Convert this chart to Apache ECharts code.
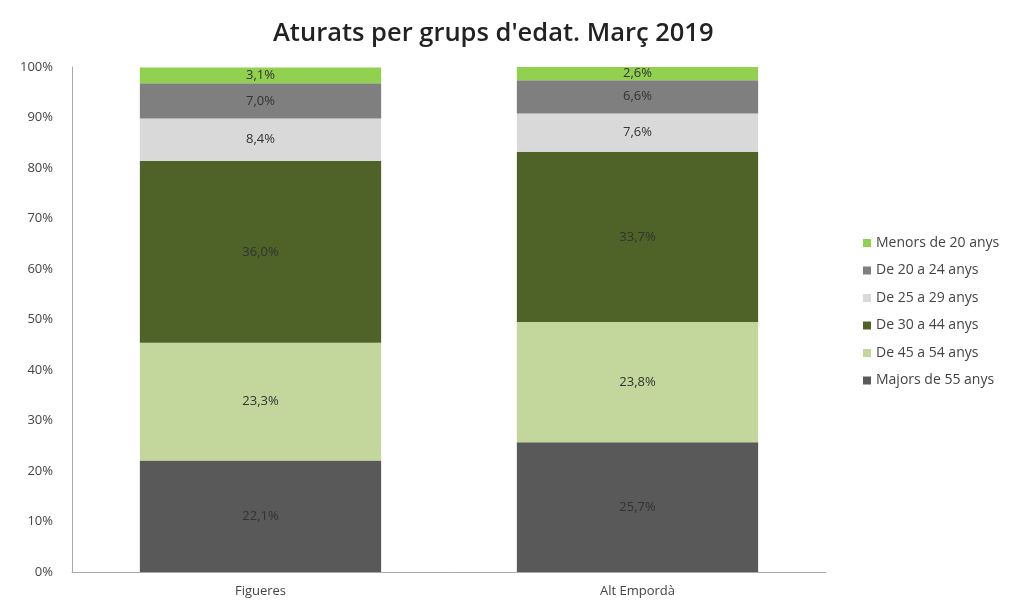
<!DOCTYPE html>
<html>
<head>
<meta charset="utf-8">
<script src="https://cdn.jsdelivr.net/npm/echarts@6/dist/echarts.min.js"></script>
<style>
	html, body { margin:0; padding:0; background:#fff; }
	#chart { width:1030px; height:608px; }
</style>
</head>
<body>
<div id="chart"></div>
<script>
	// categories and values (percent)
	var categories = ['Figueres', 'Alt Empordà'];
	var majors55 = [22.1, 25.7];
	var de45a54 = [23.3, 23.8];
	var de30a44 = [36.0, 33.7];
	var de25a29 = [8.4, 7.6];
	var de20a24 = [7.0, 6.6];
	var menors20 = [3.1, 2.6];
	var legendOrder = ['Menors de 20 anys', 'De 20 a 24 anys', 'De 25 a 29 anys', 'De 30 a 44 anys', 'De 45 a 54 anys', 'Majors de 55 anys'];

	var fontName = 'Open Sans';

	function makeSeries(name, data, color){
		return {
			name: name,
			type: 'bar',
			stack: 'total',
			barCategoryGap: '36%',
			data: data,
			itemStyle: { color: color },
			label: {
				show: true,
				position: 'inside',
				color: '#333',
				fontFamily: fontName,
				fontSize: 13,
				formatter: function(p){ return p.value.toFixed(1).replace('.', ',') + '%'; }
			}
		};
	}

	var myChart = echarts.init(document.getElementById('chart'));
	var option = {
		animation: false,
		title: {
			text: "Aturats per grups d'edat. Març 2019",
			left: 268,
			top: 16,
			textStyle: { fontFamily: fontName, fontSize: 25.5, fontWeight: 600, color: '#222' }
		},
		legend: {
			orient: 'vertical',
			left: 858,
			top: 231,
			itemWidth: 8,
			itemHeight: 8,
			itemGap: 13.5,
			icon: 'rect',
			data: legendOrder,
			textStyle: { fontFamily: fontName, fontSize: 14, color: '#444' }
		},
		grid: { left: 72, right: 204, top: 67, bottom: 36 },
		xAxis: {
			type: 'category',
			data: categories,
			axisLine: { lineStyle: { color: '#aaa' } },
			axisTick: { show: false },
			axisLabel: { fontFamily: fontName, fontSize: 13, color: '#444', margin: 13 }
		},
		yAxis: {
			type: 'value',
			min: 0,
			max: 100,
			interval: 10,
			axisLine: { show: true, lineStyle: { color: '#aaa' } },
			axisTick: { show: false },
			splitLine: { show: false },
			axisLabel: { formatter: '{value}%', fontFamily: fontName, fontSize: 13, color: '#444', margin: 19 }
		},
		series: [
			makeSeries('Majors de 55 anys', majors55, '#595959'),
			makeSeries('De 45 a 54 anys', de45a54, '#c3d69b'),
			makeSeries('De 30 a 44 anys', de30a44, '#4f6228'),
			makeSeries('De 25 a 29 anys', de25a29, '#d9d9d9'),
			makeSeries('De 20 a 24 anys', de20a24, '#7f7f7f'),
			makeSeries('Menors de 20 anys', menors20, '#92d050')
		]
	};
	myChart.setOption(option);
</script>
</body>
</html>
